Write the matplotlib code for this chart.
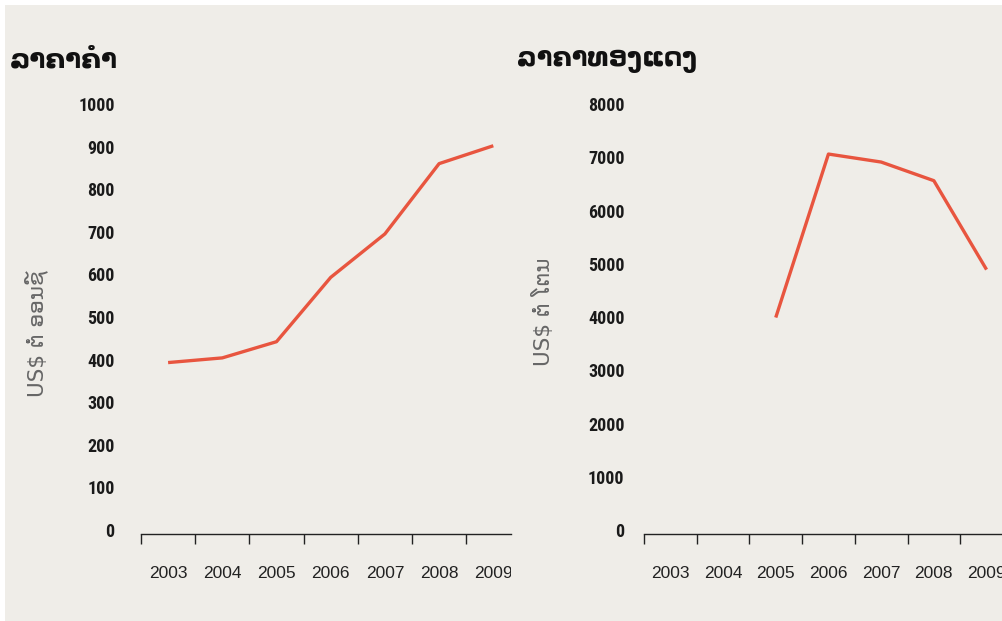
import matplotlib
matplotlib.use("Agg")
import matplotlib.pyplot as plt
from matplotlib.patches import Rectangle
from matplotlib import font_manager as fm

years = ["2003", "2004", "2005", "2006", "2007", "2008", "2009"]
gold_price = [393, 404, 442, 593, 695, 860, 902]
copper_years = ["2005", "2006", "2007", "2008", "2009"]
copper_price = [3990, 7060, 6910, 6560, 4890]

gold_title = "ລາຄາຄຳ"
copper_title = "ລາຄາທອງແດງ"
gold_ylabel = "US$ ຕໍ່ ອອນຊ໌"
copper_ylabel = "US$ ຕໍ່ ໂຕນ"
gold_yticks = [0, 100, 200, 300, 400, 500, 600, 700, 800, 900, 1000]
copper_yticks = [0, 1000, 2000, 3000, 4000, 5000, 6000, 7000, 8000]

names = {f.name for f in fm.fontManager.ttflist}
narrow = "Liberation Sans"
for cand in ["Liberation Sans Narrow", "DejaVu Sans Condensed", "Roboto Condensed"]:
    if cand in names:
        narrow = cand
        break

W, H = 1002, 621
BG = "#efede8"
fig = plt.figure(figsize=(W / 100, H / 100), dpi=100, facecolor="white")
fig.patches.append(Rectangle((5 / W, 0), 1, 1 - 5 / H, transform=fig.transFigure,
                             facecolor=BG, edgecolor="none", zorder=-10))

LINE = "#e8553f"
lao = ["DejaVu Sans", "Noto Sans"]


def px_axes(left, right, top, bottom):
    return fig.add_axes([left / W, 1 - bottom / H, (right - left) / W, (bottom - top) / H])


def setup(ax, cats, vals, allcats, yticks, ylim, pad):
    xs = [allcats.index(c) for c in cats]
    ax.plot(xs, vals, color=LINE, lw=2.4, solid_capstyle="butt", clip_on=False)
    ax.set_facecolor("none")
    for s in ["top", "right", "left"]:
        ax.spines[s].set_visible(False)
    ax.spines["bottom"].set_color("#222222")
    ax.spines["bottom"].set_linewidth(1.0)
    ax.set_ylim(*ylim)
    ax.set_yticks(yticks)
    ax.set_yticklabels([str(v) for v in yticks], family=narrow, fontweight="bold",
                       fontsize=13, color="#1a1a1a")
    ax.tick_params(axis="y", length=0, pad=pad)
    n = len(allcats)
    ax.set_xticks([i - 0.5 for i in range(n)])
    ax.set_xticklabels([])
    ax.set_xticks(list(range(n)), minor=True)
    ax.set_xticklabels(allcats, minor=True, family="Liberation Sans", fontsize=12.5,
                       color="#222222")
    ax.tick_params(axis="x", which="major", length=7, width=1.0, color="#222222",
                   direction="out")
    ax.tick_params(axis="x", which="minor", length=0, pad=23)


# Gold
ax1 = px_axes(141, 511, 104, 534)
ax1.set_xlim(-0.5, -0.5 + (511 - 141) / 54.2)
setup(ax1, years, gold_price, years, gold_yticks, (-9.4, 1000), 19)
fig.text(10 / W, 1 - 60 / H, gold_title, family=lao, fontweight="bold", fontsize=19,
         va="center", ha="left", color="#111111")
fig.text(36 / W, 1 - 334 / H, gold_ylabel, family=lao, fontsize=15.5, rotation=90,
         va="center", ha="center", color="#666666")

# cut the last gold year label like the reference
fig.add_artist(Rectangle((511 / W, 1 - 595 / H), 22 / W, 40 / H, transform=fig.transFigure,
                         facecolor=BG, edgecolor="none", zorder=5))

# Copper
ax2 = px_axes(644, 1010, 104, 534)
ax2.set_xlim(-0.5, -0.5 + (1010 - 644) / 52.7)
setup(ax2, copper_years, copper_price, years, copper_yticks, (-75, 8000), 14)
fig.text(517 / W, 1 - 60 / H, copper_title, family=lao, fontweight="bold", fontsize=18.5,
         va="center", ha="left", color="#111111")
fig.text(543 / W, 1 - 312 / H, copper_ylabel, family=lao, fontsize=15.5, rotation=90,
         va="center", ha="center", color="#666666")

fig.savefig("out.png", dpi=100, facecolor=fig.get_facecolor())
